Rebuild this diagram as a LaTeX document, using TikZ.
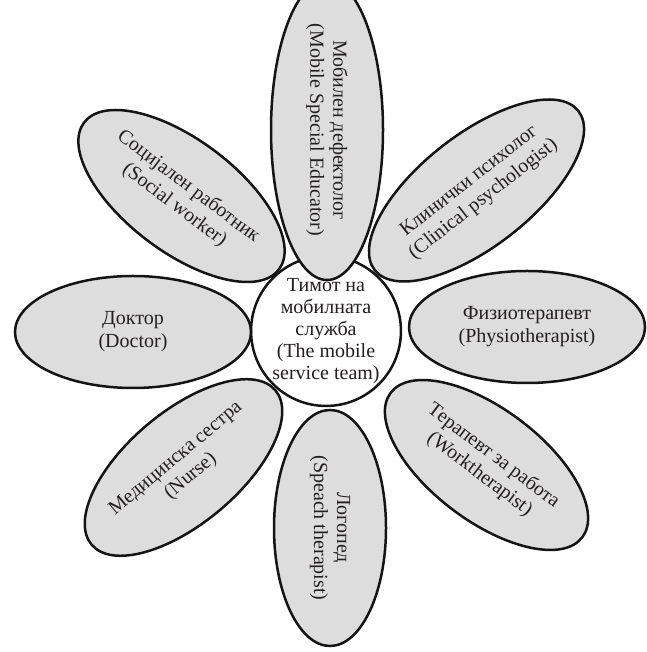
\documentclass[tikz,border=0pt]{standalone}
\usepackage{fontspec}
\setmainfont{Liberation Serif}
\usetikzlibrary{shapes.geometric}
\definecolor{petalgray}{RGB}{221,221,221}
\definecolor{inkline}{RGB}{20,20,20}
\definecolor{inktext}{RGB}{35,31,32}
\begin{document}
\begin{tikzpicture}[x=1pt,y=1pt,
  petal/.style={ellipse, draw=inkline, line width=2.5pt, fill=petalgray,
    minimum width=236pt, minimum height=112pt, inner sep=0pt, align=center,
    text=inktext, font=\fontsize{20}{23}\selectfont},
  diagpetal/.style={petal, minimum width=240pt},
  hub/.style={circle, draw=inkline, line width=2.5pt, fill=white,
    minimum size=136pt, inner sep=0pt, align=center,
    text=inktext, font=\fontsize{20}{22}\selectfont}]
\useasboundingbox (0,0) rectangle (646,652);
\node[hub] (hub) at (326,321) {Тимот на\\мобилната\\служба\\(The mobile\\service team)};
\node[petal, rotate=-90] (edu) at (327,522) {Мобилен дефектолог\\(Mobile Special Educator)};
\node[diagpetal, rotate=38] (psy) at (476.5,461.5) {Клинички психолог\\(Clinical psychologist)};
\node[petal] (phy) at (527,325) {Физиотерапевт\\(Physiotherapist)};
\node[diagpetal, rotate=-37] (work) at (486.5,187) {Терапевт за работа\\(Worktherapist)};
\node[petal, rotate=-90] (logo) at (330,124) {Логопед\\(Speach therapist)};
\node[diagpetal, rotate=40] (nurse) at (183.5,184.5) {Медицинска сестра\\(Nurse)};
\node[petal] (doc) at (133,320) {Доктор\\(Doctor)};
\node[diagpetal, rotate=-37] (soc) at (181.5,456) {Социјален работник\\(Social worker)};
\end{tikzpicture}
\end{document}
